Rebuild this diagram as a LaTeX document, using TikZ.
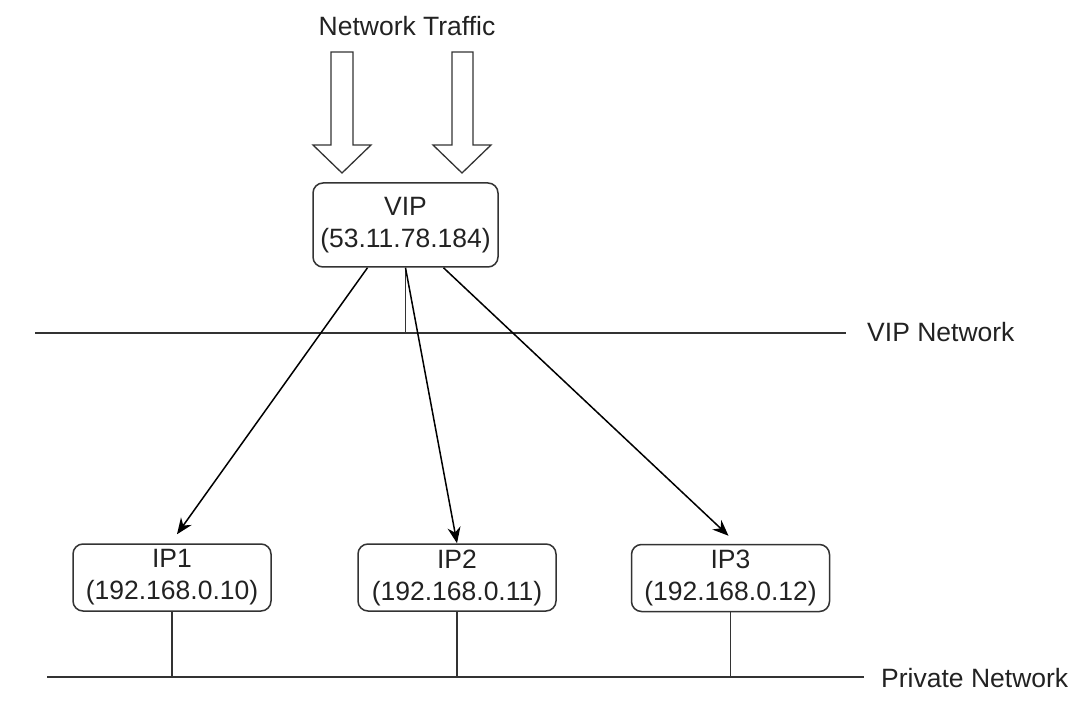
\documentclass[tikz,border=0pt]{standalone}
\usepackage{fontspec}
\setmainfont{Liberation Sans}
\usetikzlibrary{calc,arrows.meta}
\definecolor{ink}{HTML}{222222}
\definecolor{boxline}{HTML}{333333}
\begin{document}
\begin{tikzpicture}[x=1pt,y=-1pt,
  txt/.style={font=\fontsize{26.5}{32}\selectfont, text=ink, inner sep=0pt},
  hostbox/.style={draw=boxline, line width=1.5pt, rounded corners=10pt, align=center,
    font=\fontsize{26.5}{32}\selectfont, text=ink, inner sep=0pt},
  wire/.style={draw=boxline, line width=1.6pt},
  conn/.style={draw=black, line width=1.5pt, -{Stealth[length=16pt,width=13pt]}},
  blockarrow/.style={draw=boxline, line width=1.3pt, fill=white, line join=miter}
]
\useasboundingbox (0,0) rectangle (1074,708);

% title
\node[txt] (traffic) at (407,26) {Network Traffic};

% block arrows
\draw[blockarrow] (331,52) -- (353,52) -- (353,145) -- (371,145) -- (342,173) -- (313,145) -- (331,145) -- cycle;
\draw[blockarrow] (452,52) -- (473,52) -- (473,145) -- (491,145) -- (462,173) -- (433,145) -- (452,145) -- cycle;

% boxes
\node[hostbox, minimum width=185pt, minimum height=84pt] (vip) at (405.5,225) {VIP\\(53.11.78.184)};
\node[hostbox, minimum width=198pt, minimum height=67pt] (ip1) at (172,577.5) {IP1\\(192.168.0.10)};
\node[hostbox, minimum width=198pt, minimum height=67pt] (ip2) at (457,577.5) {IP2\\(192.168.0.11)};
\node[hostbox, minimum width=198pt, minimum height=67pt] (ip3) at (730.5,578) {IP3\\(192.168.0.12)};

% VIP network
\coordinate (vnL) at (35,333);
\coordinate (vnR) at (846,333);
\draw[wire] (vnL) -- (vnR);
\node[txt, anchor=west] (vnlabel) at (867,332) {VIP Network};
\draw[wire] (vip.south) -- (vip.south |- vnL);

% Private network
\coordinate (pnL) at (47,677);
\coordinate (pnR) at (864,677);
\draw[wire] (pnL) -- (pnR);
\node[txt, anchor=west] (pnlabel) at (881,678) {Private Network};
\draw[wire] (ip1.south) -- (ip1.south |- pnL);
\draw[wire] (ip2.south) -- (ip2.south |- pnL);
\draw[wire] (ip3.south) -- (ip3.south |- pnL);

% connectors
\draw[conn] ($(vip.south)+(-38,0)$) -- ($(ip1.north)+(5,-9)$);
\draw[conn] (vip.south) -- (ip2.north);
\draw[conn] ($(vip.south)+(38,0)$) -- ($(ip3.north)+(-2,-8)$);
\end{tikzpicture}
\end{document}
